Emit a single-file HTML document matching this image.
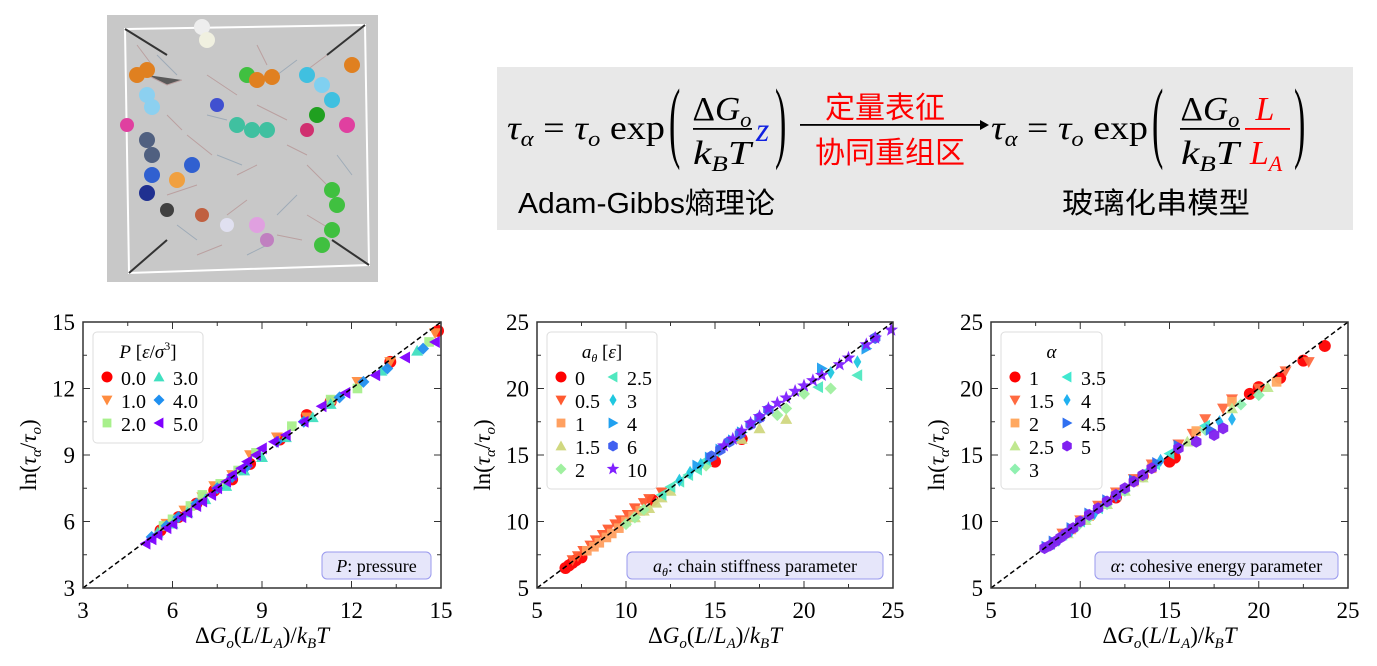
<!DOCTYPE html>
<html><head><meta charset="utf-8">
<style>
body{margin:0;width:1377px;height:666px;background:#fff;overflow:hidden;position:relative;font-family:"Liberation Serif","Noto Serif CJK SC",serif}
</style></head><body>
<svg style="position:absolute;left:107px;top:15px" width="271" height="267">
<rect width="271" height="267" fill="#c8c8c8"/>
<g opacity="0.55" stroke="#b08080" stroke-width="1"><path d="M40 60l20 10 15-5M80 120l25 20M150 90l30 15M120 200l20-15M200 150l20 20M60 180l30-10M170 220l25 5M100 60l30 20M30 30l15 20M220 40l-20 15M90 240l25-10M180 130l20 10M60 100l15 15M130 160l20-10M200 200l25 15M150 30l10 20"/></g>
<g opacity="0.4" stroke="#6080a0" stroke-width="1"><path d="M50 40l20 20M110 140l25 10M170 60l20-15M70 210l20 15M190 180l-20 20M140 240l20-10M230 140l15 20M100 100l20 5"/></g>
<polygon points="18,14 258,10 262,250 22,258" fill="none" stroke="#fff" stroke-width="2"/>
<line x1="18" y1="14" x2="60" y2="40" stroke="#333" stroke-width="2"/><line x1="258" y1="10" x2="220" y2="40" stroke="#333" stroke-width="2"/>
<line x1="22" y1="258" x2="60" y2="225" stroke="#333" stroke-width="2"/><line x1="262" y1="250" x2="225" y2="225" stroke="#333" stroke-width="2"/>
<g>
<circle cx="30" cy="60" r="8" fill="#e08020"/><circle cx="40" cy="55" r="8" fill="#e08020"/><circle cx="95" cy="12" r="8" fill="#eee"/><circle cx="100" cy="25" r="8" fill="#f0f0e0"/>
<circle cx="40" cy="80" r="8" fill="#8cd0f0"/><circle cx="45" cy="92" r="8" fill="#8cd0f0"/><circle cx="20" cy="110" r="7" fill="#e040a0"/>
<circle cx="40" cy="125" r="8" fill="#506080"/><circle cx="45" cy="140" r="8" fill="#506080"/><circle cx="45" cy="160" r="8" fill="#3060d0"/><circle cx="40" cy="178" r="8" fill="#203090"/>
<circle cx="70" cy="165" r="8" fill="#f0a040"/><circle cx="85" cy="150" r="8" fill="#3060d0"/><circle cx="60" cy="195" r="7" fill="#404040"/>
<circle cx="140" cy="60" r="8" fill="#40c040"/><circle cx="150" cy="65" r="8" fill="#e08020"/><circle cx="165" cy="62" r="8" fill="#e08020"/>
<circle cx="130" cy="110" r="8" fill="#40c0a0"/><circle cx="145" cy="115" r="8" fill="#40c0a0"/><circle cx="160" cy="115" r="8" fill="#40c0a0"/><circle cx="110" cy="90" r="7" fill="#4050d0"/>
<circle cx="200" cy="60" r="8" fill="#40c0e0"/><circle cx="215" cy="70" r="8" fill="#80d0f0"/><circle cx="225" cy="85" r="8" fill="#40c0e0"/><circle cx="210" cy="100" r="8" fill="#20a020"/>
<circle cx="240" cy="110" r="8" fill="#e040a0"/><circle cx="245" cy="50" r="8" fill="#e08020"/><circle cx="200" cy="115" r="7" fill="#d03070"/>
<circle cx="225" cy="175" r="8" fill="#40c040"/><circle cx="230" cy="190" r="8" fill="#40c040"/><circle cx="225" cy="215" r="8" fill="#40c040"/><circle cx="215" cy="230" r="8" fill="#40c040"/>
<circle cx="150" cy="210" r="8" fill="#e0a0e0"/><circle cx="160" cy="225" r="7" fill="#c080c0"/><circle cx="95" cy="200" r="7" fill="#c06040"/><circle cx="120" cy="210" r="7" fill="#e0e0f0"/>
</g></svg>

<svg style="position:absolute;left:0;top:0" width="1377" height="240" font-family="Liberation Serif, serif">
<rect x="497" y="67" width="856" height="163" fill="#e8e8e8"/>
<g font-size="34">
<text x="507" y="139" textLength="158" lengthAdjust="spacingAndGlyphs"><tspan font-style="italic">τ</tspan><tspan font-size="22" dy="7" font-style="italic">α</tspan><tspan dy="-7"> = </tspan><tspan font-style="italic">τ</tspan><tspan font-size="22" dy="7" font-style="italic">o</tspan><tspan dy="-7"> exp</tspan></text>
<text x="0" y="0" transform="translate(669,151) scale(1,2.65)">(</text>
<text x="722" y="120" text-anchor="middle" textLength="59" lengthAdjust="spacingAndGlyphs">Δ<tspan font-style="italic">G</tspan><tspan font-size="22" dy="7" font-style="italic">o</tspan></text>
<rect x="693" y="128" width="59" height="1.8" fill="#000"/>
<text x="722" y="164" text-anchor="middle" font-style="italic" textLength="58" lengthAdjust="spacingAndGlyphs">k<tspan font-size="22" dy="7">B</tspan><tspan dy="-7">T</tspan></text>
<text x="756" y="141" font-style="italic" fill="#1020e0">z</text>
<text x="0" y="0" transform="translate(775,151) scale(1,2.65)">)</text>
</g>
<g>
<rect x="800" y="124" width="182" height="1.8" fill="#000"/>
<polygon points="980,120 989,125 980,130" fill="#000"/>
<text x="885" y="118" text-anchor="middle" font-size="30" fill="#f00" font-family="Noto Sans CJK SC, sans-serif">定量表征</text>
<text x="890" y="163" text-anchor="middle" font-size="30" fill="#f00" font-family="Noto Sans CJK SC, sans-serif">协同重组区</text>
</g>
<g font-size="34">
<text x="991" y="139" textLength="157" lengthAdjust="spacingAndGlyphs"><tspan font-style="italic">τ</tspan><tspan font-size="22" dy="7" font-style="italic">α</tspan><tspan dy="-7"> = </tspan><tspan font-style="italic">τ</tspan><tspan font-size="22" dy="7" font-style="italic">o</tspan><tspan dy="-7"> exp</tspan></text>
<text x="0" y="0" transform="translate(1152,151) scale(1,2.65)">(</text>
<text x="1210" y="120" text-anchor="middle" textLength="59" lengthAdjust="spacingAndGlyphs">Δ<tspan font-style="italic">G</tspan><tspan font-size="22" dy="7" font-style="italic">o</tspan></text>
<rect x="1180" y="128" width="60" height="1.8" fill="#000"/>
<text x="1210" y="164" text-anchor="middle" font-style="italic" textLength="58" lengthAdjust="spacingAndGlyphs">k<tspan font-size="22" dy="7">B</tspan><tspan dy="-7">T</tspan></text>
<text x="1265" y="120" text-anchor="middle" font-style="italic" fill="#f00">L</text>
<rect x="1245" y="128" width="45" height="1.8" fill="#f00"/>
<text x="1266" y="164" text-anchor="middle" font-style="italic" fill="#f00">L<tspan font-size="22" dy="7">A</tspan></text>
<text x="0" y="0" transform="translate(1294,151) scale(1,2.65)">)</text>
</g>
<text x="518" y="213" font-size="29" textLength="257" lengthAdjust="spacingAndGlyphs" font-family="Liberation Sans, Noto Sans CJK SC, sans-serif">Adam-Gibbs熵理论</text>
<text x="1062" y="213" font-size="29" textLength="188" lengthAdjust="spacingAndGlyphs" font-family="Noto Sans CJK SC, sans-serif">玻璃化串模型</text>
</svg>

<svg id="ch" style="position:absolute;left:0;top:0" width="1377" height="666" font-family="Liberation Serif, serif"></svg>
<script>
// Chart 1: pressure
const c1Ticks=[3,6,9,12,15];
const c1Labels=["0.0","1.0","2.0","3.0","4.0","5.0"];
const c1S0=[[5.6,5.6],[6.2,6.2],[6.8,6.8],[7.4,7.4],[8.0,7.9],[8.6,8.6],[9.6,9.7],[10.5,10.8],[11.3,11.4],[13.3,13.2],[14.9,14.6]];
const c1S1=[[5.8,5.9],[6.4,6.5],[7.0,7.1],[7.4,7.6],[8.0,8.1],[8.6,9.0],[9.5,9.8],[10.5,10.7],[12.2,12.3],[13.3,13.2],[14.8,14.5]];
const c1S2=[[5.7,5.8],[6.0,6.1],[6.6,6.7],[7.0,7.2],[7.6,7.7],[8.2,8.3],[8.8,9.1],[10.0,10.3],[11.3,11.5],[12.2,12.0],[14.6,14.1]];
const c1S3=[[5.5,5.5],[6.0,5.9],[6.5,6.4],[7.1,7.0],[7.8,7.6],[8.4,8.3],[9.0,8.9],[9.8,9.8],[10.7,10.7],[11.3,11.3],[13.0,12.8],[14.2,13.7]];
const c1S4=[[5.3,5.3],[5.8,5.8],[6.2,6.2],[6.8,6.8],[7.5,7.5],[8.0,8.0],[8.5,8.5],[9.5,9.6],[10.4,10.5],[11.6,11.6],[12.4,12.3],[13.2,12.9],[14.4,13.8]];
const c1S5=[[5.1,5.0],[5.3,5.2],[5.5,5.4],[5.8,5.7],[6.0,5.9],[6.3,6.2],[6.5,6.4],[6.8,6.7],[7.0,6.9],[7.3,7.2],[7.5,7.5],[7.8,7.8],[8.0,8.1],[8.3,8.4],[8.5,8.7],[8.8,9.0],[9.0,9.3],[9.4,9.6],[9.8,9.9],[10.4,10.5],[11.0,11.2],[11.8,11.8],[12.8,12.6],[13.8,13.4],[14.8,14.1]];
// Chart 2: chain stiffness
const c2Ticks=[5,10,15,20,25];
const c2Labels=["0","0.5","1","1.5","2","2.5","3","4","6","10"];
const c2S0=[[6.6,6.5],[6.8,6.7],[7.0,6.9],[7.2,7.1],[7.5,7.3],[11.5,11.6],[15.0,14.5],[16.5,16.2]];
const c2S1=[[7.0,7.1],[7.3,7.4],[7.6,7.8],[8.0,8.2],[8.3,8.6],[8.7,9.0],[9.0,9.4],[9.4,9.8],[9.7,10.1],[10.1,10.5],[10.5,11.0],[11.0,11.4],[11.3,11.7],[12.0,12.2]];
const c2S2=[[7.8,7.8],[8.2,8.1],[8.5,8.4],[8.9,8.8],[9.2,9.1],[9.6,9.5],[10.0,10.0],[10.4,10.4],[10.8,10.8]];
const c2S3=[[10.5,10.3],[11.0,10.8],[11.3,11.0],[11.7,11.4],[12.0,11.8],[12.5,12.3],[16.5,16.2],[17.5,17.0],[19.0,17.7]];
const c2S4=[[10.0,9.8],[10.5,10.3],[11.0,10.9],[14.5,14.2],[18.5,18.0],[19.0,18.5],[20.0,19.6],[21.5,20.0]];
const c2S5=[[12.0,12.0],[12.5,12.6],[13.0,13.0],[13.5,13.5],[14.0,13.9],[14.5,14.6],[20.8,20.1],[23.0,21.0]];
const c2S6=[[13.0,13.1],[13.6,13.7],[14.2,14.3],[14.7,14.8],[15.2,15.3],[21.5,21.2],[23.0,22.0]];
const c2S7=[[14.0,14.2],[14.7,14.8],[15.3,15.4],[16.0,16.1],[16.5,16.7],[21.0,21.5],[23.5,23.0]];
const c2S8=[[14.8,14.9],[15.3,15.4],[15.8,16.0],[16.4,16.6],[17.0,17.3],[17.5,17.8],[18.0,18.4],[24.0,23.8]];
const c2S9=[[15.5,15.7],[16.0,16.2],[16.5,16.8],[17.0,17.4],[17.5,17.9],[18.0,18.5],[18.5,18.9],[19.0,19.3],[19.5,19.8],[20.0,20.2],[20.5,20.6],[21.0,21.0],[22.0,21.8],[22.5,22.3],[23.5,23.3],[24.0,23.8],[24.9,24.4]];
// Chart 3: cohesive energy
const c3Ticks=[5,10,15,20,25];
const c3Labels=["1","1.5","2","2.5","3","3.5","4","4.5","5"];
const c3S0=[[12.0,11.8],[13.5,13.4],[15.0,14.5],[15.3,14.8],[19.5,19.6],[20.0,20.1],[21.2,20.8],[22.5,22.1],[23.7,23.2]];
const c3S1=[[9.0,9.1],[10.0,10.1],[11.0,11.2],[12.0,12.2],[13.0,13.2],[14.0,14.3],[15.5,15.8],[16.3,16.6],[17.0,17.7],[18.0,18.5],[18.5,19.2],[20.0,20.0],[21.5,21.3],[22.8,22.0]];
const c3S2=[[9.5,9.4],[10.5,10.4],[12.0,12.0],[13.0,13.0],[14.0,14.0],[16.5,16.8],[18.5,19.0],[21.0,20.5]];
const c3S3=[[9.3,9.1],[10.3,10.1],[11.5,11.3],[12.5,12.3],[13.5,13.3],[16.0,16.0],[18.5,18.5],[20.5,20.1]];
const c3S4=[[9.8,9.6],[10.5,10.3],[11.5,11.3],[12.5,12.3],[17.0,16.9],[19.0,18.8],[20.0,19.5]];
const c3S5=[[8.3,8.3],[9.0,9.0],[10.0,10.0],[11.0,11.0],[12.0,12.0],[13.5,13.6],[14.2,14.3],[15.0,15.1],[17.0,17.2]];
const c3S6=[[8.8,8.6],[9.5,9.3],[10.8,10.6],[12.0,11.9],[14.5,14.6],[17.8,17.5],[18.5,17.7]];
const c3S7=[[8.1,8.1],[8.5,8.5],[9.5,9.5],[10.5,10.6],[11.5,11.6],[13.0,13.1],[14.3,14.4],[15.5,15.7],[17.3,16.9]];
const c3S8=[[8.0,8.0],[8.3,8.2],[8.6,8.5],[8.9,8.8],[9.2,9.1],[9.6,9.5],[10.0,10.0],[10.5,10.5],[11.0,11.0],[11.5,11.5],[12.0,12.0],[12.5,12.5],[13.0,13.0],[13.5,13.5],[14.0,14.0],[15.5,15.5],[16.5,16.0],[17.5,16.5],[18.0,17.0]];

const NS="http://www.w3.org/2000/svg";
const svg=document.getElementById('ch');
function mk(tag,attrs,parent){const e=document.createElementNS(NS,tag);for(const k in attrs)e.setAttribute(k,attrs[k]);(parent||svg).appendChild(e);return e;}
function marker(type,x,y,r,col,g){
  let e;
  if(type==='o')e=mk('circle',{cx:x,cy:y,r:r,fill:col},g);
  else if(type==='v')e=mk('polygon',{points:`${x-r},${y-r*0.8} ${x+r},${y-r*0.8} ${x},${y+r}`,fill:col},g);
  else if(type==='^')e=mk('polygon',{points:`${x-r},${y+r*0.8} ${x+r},${y+r*0.8} ${x},${y-r}`,fill:col},g);
  else if(type==='<')e=mk('polygon',{points:`${x+r*0.8},${y-r} ${x+r*0.8},${y+r} ${x-r},${y}`,fill:col},g);
  else if(type==='>')e=mk('polygon',{points:`${x-r*0.8},${y-r} ${x-r*0.8},${y+r} ${x+r},${y}`,fill:col},g);
  else if(type==='s')e=mk('rect',{x:x-r*0.8,y:y-r*0.8,width:r*1.6,height:r*1.6,fill:col},g);
  else if(type==='D')e=mk('polygon',{points:`${x},${y-r} ${x+r},${y} ${x},${y+r} ${x-r},${y}`,fill:col},g);
  else if(type==='d')e=mk('polygon',{points:`${x},${y-r*1.1} ${x+r*0.65},${y} ${x},${y+r*1.1} ${x-r*0.65},${y}`,fill:col},g);
  else if(type==='h'){let p=[];for(let i=0;i<6;i++){const a=Math.PI/3*i+Math.PI/6;p.push((x+r*Math.cos(a))+','+(y+r*Math.sin(a)));}e=mk('polygon',{points:p.join(' '),fill:col},g);}
  else if(type==='*'){let p=[];for(let i=0;i<10;i++){const a=-Math.PI/2+Math.PI/5*i;const rr=i%2?r*0.5:r*1.2;p.push((x+rr*Math.cos(a))+','+(y+rr*Math.sin(a)));}e=mk('polygon',{points:p.join(' '),fill:col},g);}
  return e;
}
function chart(o){
  const L=o.L,R=o.R,T=322,B=588,mn=o.ticks[0],mx=o.ticks[o.ticks.length-1];
  const sx=v=>L+(v-mn)/(mx-mn)*(R-L), sy=v=>B-(v-mn)/(mx-mn)*(B-T);
  const g=mk('g',{});
  
  
  o.series.forEach((s,i)=>{
    const sg=mk('g',{opacity:0.95},g);
    
    
    s.forEach(p=>{const m=marker(o.mk[i],sx(p[0]),sy(p[1]),6,o.cols[i],sg);
      
      });
  });
  const dl=mk('line',{x1:sx(mn),y1:sy(mn),x2:sx(mx),y2:sy(mx),stroke:'#000','stroke-width':1.5,'stroke-dasharray':'5,3'},g);
  
  
  mk('rect',{x:L,y:T,width:R-L,height:B-T,fill:'none',stroke:'#333','stroke-width':1.5},g);
  const step=o.ticks[1]-o.ticks[0];
  for(let k=0;k<o.ticks.length*2-1;k++){
    const v=mn+k*step/2, maj=k%2===0, len=maj?7:4;
    mk('line',{x1:sx(v),y1:B,x2:sx(v),y2:B-len,stroke:'#333'},g);
    mk('line',{x1:sx(v),y1:T,x2:sx(v),y2:T+len,stroke:'#333'},g);
    mk('line',{x1:L,y1:sy(v),x2:L+len,y2:sy(v),stroke:'#333'},g);
    mk('line',{x1:R,y1:sy(v),x2:R-len,y2:sy(v),stroke:'#333'},g);
  }
  o.ticks.forEach(v=>{
    const tx=mk('text',{x:sx(v),y:B+30,'font-size':23,'text-anchor':'middle'},g);tx.textContent=v;
    
    
    const ty=mk('text',{x:L-8,y:sy(v)+8,'font-size':23,'text-anchor':'end'},g);ty.textContent=v;
    
    
  });
  const xl=mk('text',{x:(L+R)/2,y:643,'font-size':23,'text-anchor':'middle'},g);
  xl.innerHTML='Δ<tspan font-style="italic">G</tspan><tspan font-size="15" dy="5" font-style="italic">o</tspan><tspan dy="-5">(</tspan><tspan font-style="italic">L</tspan>/<tspan font-style="italic">L</tspan><tspan font-size="15" dy="5" font-style="italic">A</tspan><tspan dy="-5">)/</tspan><tspan font-style="italic">k</tspan><tspan font-size="15" dy="5" font-style="italic">B</tspan><tspan dy="-5" font-style="italic">T</tspan>';
  
  
  const yl=mk('text',{x:0,y:0,'font-size':23,'text-anchor':'middle',transform:`translate(${L-47},${(T+B)/2}) rotate(-90)`},g);
  yl.innerHTML='ln(<tspan font-style="italic">τ</tspan><tspan font-size="15" dy="5" font-style="italic">α</tspan><tspan dy="-5">/</tspan><tspan font-style="italic">τ</tspan><tspan font-size="15" dy="5" font-style="italic">o</tspan><tspan dy="-5">)</tspan>';
  
  
  const lg=mk('g',{},g);
  
  
  const rows=Math.ceil(o.labels.length/2);
  mk('rect',{x:L+10,y:T+10,width:o.lw,height:42+rows*23,rx:4,fill:'#fff',stroke:'#ddd'},lg);
  const tt=mk('text',{x:L+10+o.lw/2,y:T+36,'font-size':19,'text-anchor':'middle'},lg);tt.innerHTML=o.title;
  o.labels.forEach((lb,i)=>{
    const col=i<rows?0:1,row=i%rows;
    const x=L+24+col*o.cw,y=T+56+row*23;
    marker(o.mk[i],x,y-1,5.5,o.cols[i],lg);
    const t=mk('text',{x:x+14,y:y+7,'font-size':20},lg);t.textContent=lb;
    
    
  });
  const nb=mk('g',{},g);
  
  
  mk('rect',{x:R-o.nw-10,y:552,width:o.nw,height:27,rx:5,fill:'#e6e6fa',stroke:'#9999ee'},nb);
  const nt=mk('text',{x:R-10-o.nw/2,y:572,'font-size':18,'text-anchor':'middle'},nb);nt.innerHTML=o.note;
}
chart({name:'pressure-chart',L:83,R:441,ticks:c1Ticks,labels:c1Labels,series:[c1S0,c1S1,c1S2,c1S3,c1S4,c1S5],
  mk:['o','v','s','^','D','<'],cols:['#ff0000','#ff8c40','#a8f08c','#40e0c0','#2090f0','#8000ff'],
  lw:110,cw:52,title:'<tspan font-style="italic">P</tspan> [<tspan font-style="italic">ε</tspan>/<tspan font-style="italic">σ</tspan><tspan font-size="12" dy="-8">3</tspan><tspan dy="8">]</tspan>',nw:109,note:'<tspan font-style="italic">P</tspan>: pressure'});
chart({name:'chain-stiffness-chart',L:537,R:893,ticks:c2Ticks,labels:c2Labels,series:[c2S0,c2S1,c2S2,c2S3,c2S4,c2S5,c2S6,c2S7,c2S8,c2S9],
  mk:['o','v','s','^','D','<','d','>','h','*'],cols:['#ff0000','#ff5a30','#ffa060','#d0d880','#a0f0a0','#50e8c0','#20c8e0','#20a0f0','#4060f0','#8020ff'],
  lw:110,cw:52,title:'<tspan font-style="italic">a</tspan><tspan font-size="12" dy="4" font-style="italic">θ</tspan><tspan dy="-4"> [</tspan><tspan font-style="italic">ε</tspan>]',nw:256,note:'<tspan font-style="italic">a</tspan><tspan font-size="12" dy="4" font-style="italic">θ</tspan><tspan dy="-4">: chain stiffness parameter</tspan>'});
chart({name:'cohesive-energy-chart',L:991,R:1348,ticks:c3Ticks,labels:c3Labels,series:[c3S0,c3S1,c3S2,c3S3,c3S4,c3S5,c3S6,c3S7,c3S8],
  mk:['o','v','s','^','D','<','d','>','h'],cols:['#ff0000','#ff6a40','#ffa860','#c0e890','#90f0b0','#40e8d0','#20b0f0','#3070f0','#8020f0'],
  lw:101,cw:52,title:'<tspan font-style="italic">α</tspan>',nw:243,note:'<tspan font-style="italic">α</tspan>: cohesive energy parameter'});
</script>
</body></html>
